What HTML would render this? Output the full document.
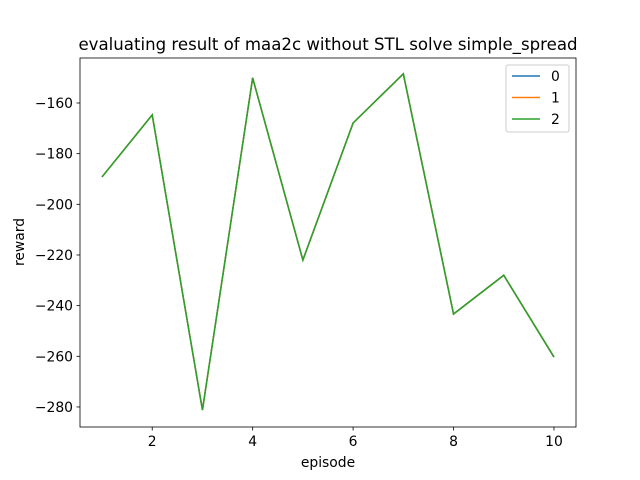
<!DOCTYPE html>
<html><head><meta charset="utf-8"><style>body{margin:0;background:#fff}svg{display:block;font-family:"DejaVu Sans","Liberation Sans",sans-serif}</style></head>
<body>
<svg id="chart" width="640" height="480">
<rect x="0" y="0" width="640" height="480" fill="#fff"/>
<text x="328" y="50" font-size="16.6" text-anchor="middle">evaluating result of maa2c without STL solve simple_spread</text>
<g id="ticks"></g>
<g id="series"></g>
<rect x="80" y="58" width="496" height="369" fill="none" stroke="#000" stroke-width="0.8"/>
<text x="328" y="467" font-size="13.9" text-anchor="middle">episode</text>
<text x="24" y="242" font-size="13.9" text-anchor="middle" transform="rotate(-90 24 242)">reward</text>
<g id="legend">
<rect x="506" y="65" width="63" height="67" rx="2" fill="#fff" stroke="#ccc" stroke-width="1"/>
</g>
</svg>
<script>
const episodes=[1,2,3,4,5,6,7,8,9,10];
const series0=[-189.2,-164.7,-281.2,-150.1,-222,-167.9,-148.5,-243.3,-228,-260.3];
const series1=[-189.2,-164.7,-281.2,-150.1,-222,-167.9,-148.5,-243.3,-228,-260.3];
const series2=[-189.2,-164.7,-281.2,-150.1,-222,-167.9,-148.5,-243.3,-228,-260.3];
const seriesNames=["0","1","2"];
const xTicks=[2,4,6,8,10];
const yTicks=[-160,-180,-200,-220,-240,-260,-280];
const colors=["#1f77b4","#ff7f0e","#2ca02c"];
const NS="http://www.w3.org/2000/svg";
const X=v=>102+(v-1)*50.22;
const Y=v=>103+(-160-v)*2.533;
function mk(t,a,p){const e=document.createElementNS(NS,t);for(const k in a)e.setAttribute(k,a[k]);p.appendChild(e);return e;}
const tg=document.getElementById('ticks');
xTicks.forEach(t=>{const x=X(t);
const l=mk('line',{x1:x,x2:x,y1:427,y2:430.5,stroke:'#000','stroke-width':0.8},tg);


const s=mk('text',{x:x,y:446,'font-size':13.9,'text-anchor':'middle'},tg);s.textContent=t;

});
yTicks.forEach(t=>{const y=Y(t);
const l=mk('line',{x1:76.5,x2:80,y1:y,y2:y,stroke:'#000','stroke-width':0.8},tg);


const s=mk('text',{x:73,y:y+5,'font-size':13.9,'text-anchor':'end'},tg);s.textContent='\u2212'+Math.abs(t);

});
const sg=document.getElementById('series');
[series0,series1,series2].forEach((d,i)=>{
const p=mk('polyline',{points:d.map((v,j)=>X(episodes[j])+','+Y(v)).join(' '),fill:'none',stroke:colors[i],'stroke-width':1.5},sg);

});
const lg=document.getElementById('legend');
seriesNames.forEach((n,i)=>{const y=76+i*21.5;
const l=mk('line',{x1:512,x2:540,y1:y,y2:y,stroke:colors[i],'stroke-width':1.5},lg);


const t=mk('text',{x:551,y:y+5,'font-size':13.9},lg);t.textContent=n;

});
</script>
</body></html>
